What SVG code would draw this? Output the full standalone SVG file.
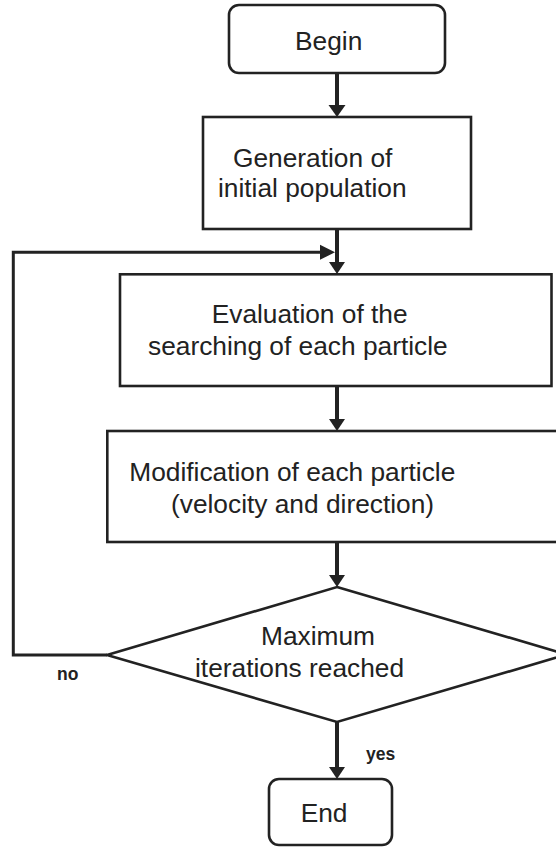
<svg xmlns="http://www.w3.org/2000/svg" width="556" height="847" viewBox="0 0 556 847">
<style>
.box{fill:#fff;stroke:#222;stroke-width:2.6}
.t{font-family:"Liberation Sans",Arial,sans-serif;font-size:26.3px;fill:#222}
.lbl{font-family:"Liberation Sans",Arial,sans-serif;font-size:17.5px;font-weight:bold;fill:#222}
.shaft{fill:none;stroke:#222;stroke-width:4}
.fb{fill:none;stroke:#222;stroke-width:3}
.head{fill:#222}
</style>
<rect width="556" height="847" fill="#fff"/>
<g id="begin">
<rect class="box" x="229" y="5" width="216" height="68" rx="10"/>
<text class="t" x="295" y="50">Begin</text>
</g>
<g id="generation">
<rect class="box" x="203" y="117" width="268" height="112"/>
<text class="t" x="233" y="167">Generation of</text>
<text class="t" x="218" y="197">initial population</text>
</g>
<g id="evaluation">
<rect class="box" x="120" y="274.3" width="431.5" height="111.7"/>
<text class="t" x="211.7" y="323">Evaluation of the</text>
<text class="t" x="148" y="355">searching of each particle</text>
</g>
<g id="modification">
<rect class="box" x="107.3" y="431" width="460" height="111"/>
<text class="t" x="129.3" y="481">Modification of each particle</text>
<text class="t" x="171" y="513">(velocity and direction)</text>
</g>
<g id="decision">
<polygon class="box" points="337,587 567,654.5 337,722 107,655"/>
<text class="t" x="261" y="645">Maximum</text>
<text class="t" x="195" y="677">iterations reached</text>
</g>
<g id="end">
<rect class="box" x="269" y="779" width="123" height="66" rx="10"/>
<text class="t" x="300.7" y="821.7">End</text>
</g>
<g id="connectors">
<line class="shaft" x1="337" y1="73" x2="337" y2="106"/>
<polygon class="head" points="328.5,105 345.5,105 337,117"/>
<line class="shaft" x1="337" y1="229" x2="337" y2="263"/>
<polygon class="head" points="329,262 345,262 337,274"/>
<polyline class="fb" points="107,655 13.3,655 13.3,252.3 321,252.3"/>
<polygon class="head" points="320,244.8 320,259.8 335,252.3"/>
<line class="shaft" x1="337" y1="386" x2="337" y2="420"/>
<polygon class="head" points="329,419 345,419 337,431"/>
<line class="shaft" x1="337" y1="542" x2="337" y2="576"/>
<polygon class="head" points="329,575 345,575 337,587"/>
<line class="shaft" x1="337" y1="722" x2="337" y2="768"/>
<polygon class="head" points="329,767 345,767 337,779"/>
<text class="lbl" x="57" y="680">no</text>
<text class="lbl" x="366" y="760">yes</text>
</g>
</svg>
